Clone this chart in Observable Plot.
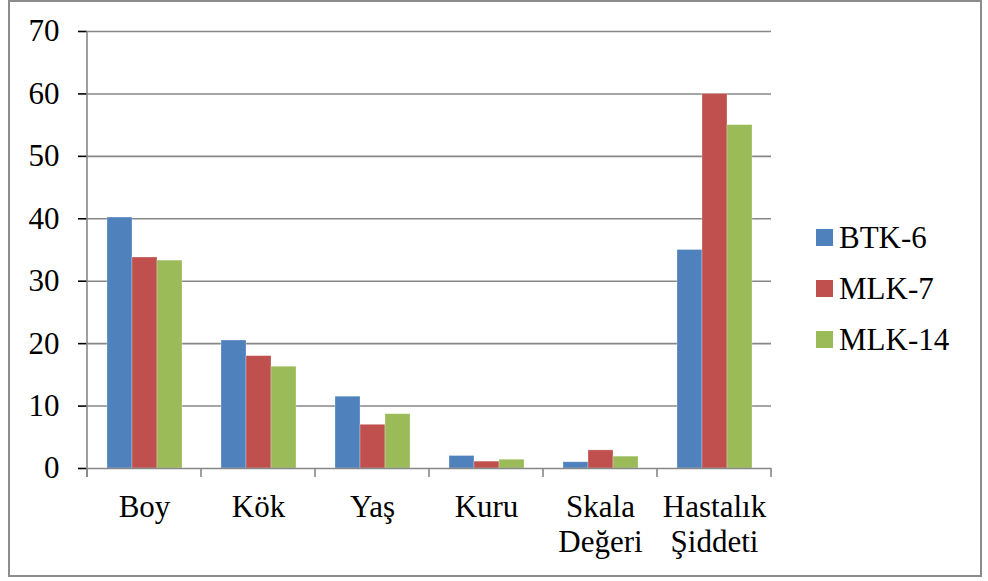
<!DOCTYPE html>
<html>
<head>
<meta charset="utf-8">
<script src="https://cdn.jsdelivr.net/npm/d3@7"></script>
<script src="https://cdn.jsdelivr.net/npm/@observablehq/plot@0.6"></script>
<style>
  html, body { margin: 0; padding: 0; background: #fff; }
  #wrap { position: relative; width: 988px; height: 581px; overflow: hidden; font-family: "Liberation Serif", "Times New Roman", serif; }
  #frame { position: absolute; left: 8px; top: 0px; width: 974px; height: 577px; box-sizing: border-box; border: 2px solid #8c8c8c; pointer-events: none; }
  #legend { position: absolute; left: 816px; top: 212px; font-size: 31px; color: #000; }
  .li { display: flex; align-items: center; height: 51px; }
  .sw { width: 17px; height: 17px; margin-right: 6px; }
  g[aria-label="y-axis tick"] { stroke: #878787; stroke-width: 1.6px; }
</style>
</head>
<body>
<div id="wrap"><div id="chart"></div><div id="legend"></div><div id="frame"></div></div>
<script>
const categories = ["Boy", "Kök", "Yaş", "Kuru", "Skala\nDeğeri", "Hastalık\nŞiddeti"];
const series = ["BTK-6", "MLK-7", "MLK-14"];
const btk6  = [40.2, 20.5, 11.5, 2.0, 1.0, 35.0];
const mlk7  = [33.8, 18.0, 7.0, 1.1, 2.9, 60.0];
const mlk14 = [33.3, 16.3, 8.7, 1.4, 1.9, 55.0];
const colors = ["#4F81BD", "#C0504D", "#9BBB59"];
const yTicks = [0, 10, 20, 30, 40, 50, 60, 70];

const valuesBySeries = [btk6, mlk7, mlk14];
const data = categories.flatMap((c, i) => series.map((s, j) => ({category: c, series: s, value: valuesBySeries[j][i]})));

const plot = Plot.plot({
  width: 988,
  height: 581,
  marginLeft: 86,
  marginRight: 216,
  marginTop: 31,
  marginBottom: 113,
  style: {fontFamily: "Liberation Serif", fontSize: "31px", color: "#000", background: "transparent"},
  fx: {domain: categories, padding: 0, label: null, axis: "bottom", tickSize: 0, tickPadding: 26},
  x: {domain: series, paddingInner: 0, paddingOuter: 0.75, axis: null},
  y: {domain: [0, 70], ticks: yTicks, tickSize: 9, tickPadding: 19, label: null, tickFormat: d => String(d)},
  color: {domain: series, range: colors},
  marks: [
    Plot.ruleY(yTicks.filter(t => t > 0), {stroke: "#878787", strokeWidth: 1.6}),
    Plot.barY(data, {fx: "category", x: "series", y: "value", fill: "series", stroke: "#ffffff", strokeOpacity: 0.35, strokeWidth: 0.8}),
    Plot.ruleY([0], {stroke: "#878787", strokeWidth: 1.6})
  ]
});

// multi-line fx labels line height
d3.select(plot).selectAll('g[aria-label="fx-axis tick label"] text, g[aria-label="fx-axis"] text').each(function() {
  d3.select(this).selectAll("tspan").filter((d, i) => i > 0).attr("dy", "1.15em");
});

// axis line and category boundary ticks from Plot's own scales
const fx = plot.scale("fx");
const y = plot.scale("y");
const y0 = y.apply(0), yTop = y.apply(70);
const edges = categories.map(c => fx.apply(c));
edges.push(fx.apply(categories[categories.length - 1]) + fx.step);
const g = d3.select(plot).append("g").attr("stroke", "#878787").attr("stroke-width", 1.6);
g.append("line").attr("x1", edges[0]).attr("x2", edges[0]).attr("y1", yTop).attr("y2", y0 + 9);
edges.forEach(x => g.append("line").attr("x1", x).attr("x2", x).attr("y1", y0).attr("y2", y0 + 9));

document.getElementById("chart").appendChild(plot);

const legend = d3.select("#legend");
series.forEach((s, i) => {
  const row = legend.append("div").attr("class", "li");
  row.append("div").attr("class", "sw").style("background", colors[i]);
  row.append("span").text(s);
});
</script>
</body>
</html>
